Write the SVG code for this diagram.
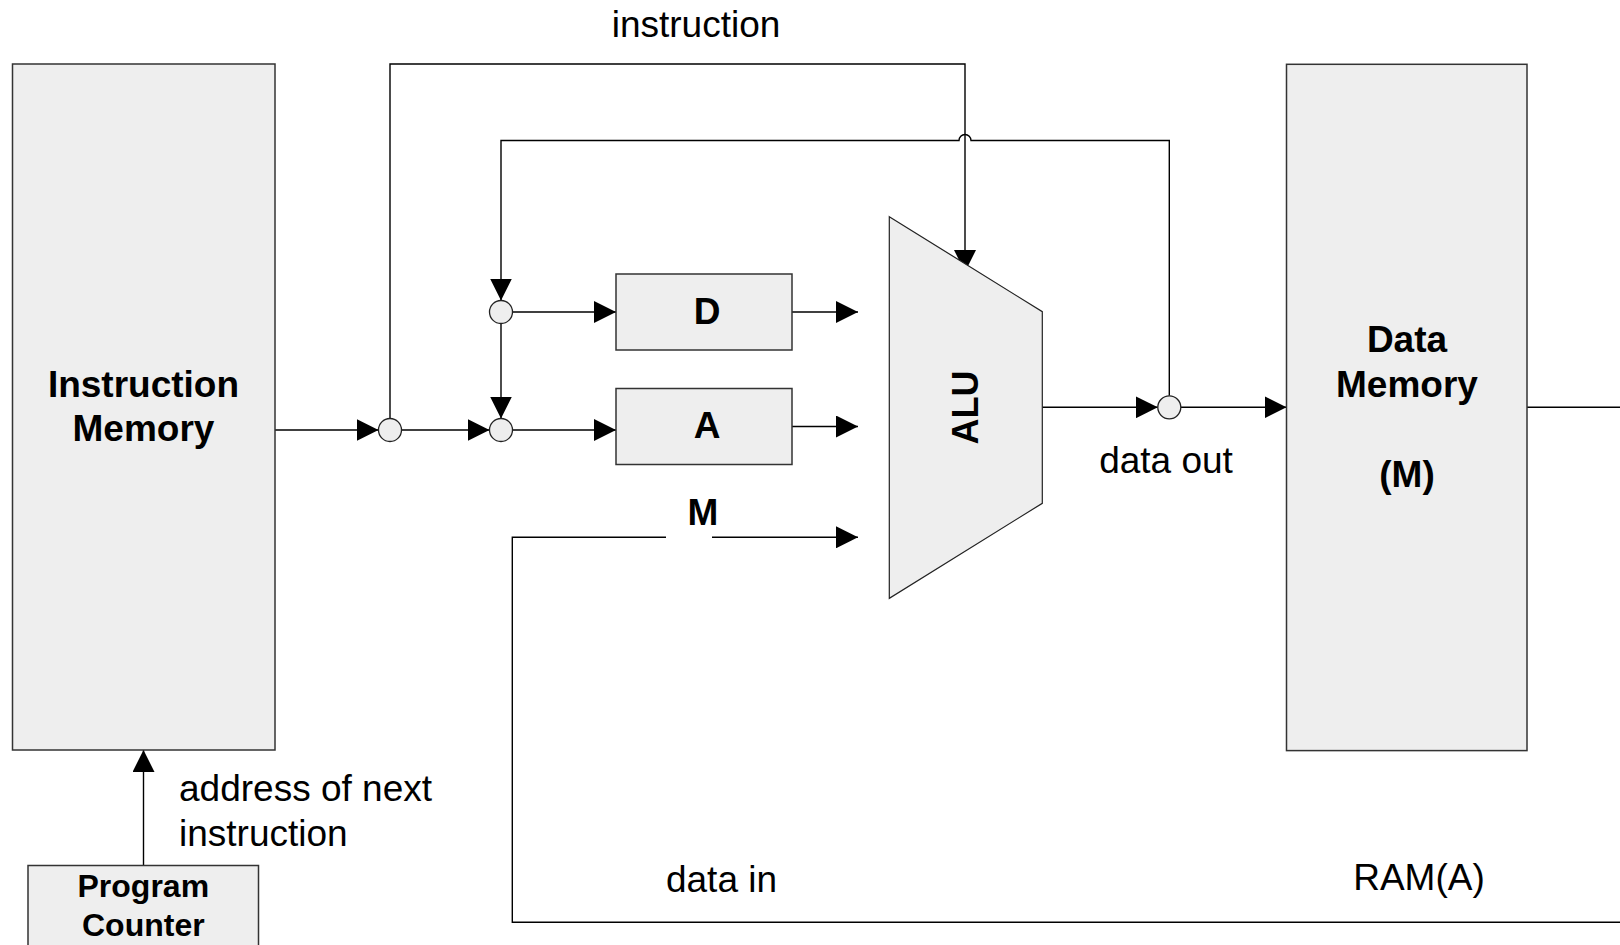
<svg xmlns="http://www.w3.org/2000/svg" width="1620" height="945" viewBox="0 0 1620 945">
  <style>
    .box { fill: #eeeeee; stroke: #333333; stroke-width: 1.5; }
    .junc { fill: #eeeeee; stroke: #222222; stroke-width: 1.3; }
    .wire { fill: none; stroke: #000000; stroke-width: 1.4; }
    .arrow { marker-end: url(#head); }
    .lbl { font-family: "Liberation Sans", Arial, sans-serif; font-size: 37px; fill: #000000; }
    .bold { font-family: "Liberation Sans", Arial, sans-serif; font-size: 37px; font-weight: bold; fill: #000000; text-anchor: middle; }
  </style>
  <defs>
    <marker id="head" viewBox="0 0 22 22" refX="22" refY="11" markerWidth="22" markerHeight="22" markerUnits="userSpaceOnUse" orient="auto">
      <path d="M0,0 L22,11 L0,22 Z" fill="#000000"/>
    </marker>
  </defs>

  <rect width="1620" height="945" fill="#ffffff"/>

  <!-- connectors -->
  <g id="connectors">
    <!-- program counter to instruction memory -->
    <line class="wire arrow" x1="143.5" y1="865.5" x2="143.5" y2="750"/>
    <!-- instruction memory output -->
    <line class="wire arrow" x1="275" y1="430" x2="378.5" y2="430"/>
    <line class="wire arrow" x1="401.5" y1="430" x2="489.5" y2="430"/>
    <!-- instruction bus to the ALU -->
    <path class="wire arrow" d="M390,418.5 V64 H965 V272"/>
    <!-- data out fed back to the registers, hopping over the instruction bus -->
    <path class="wire arrow" d="M1169.3,395.8 V140.5 H971 A6,6 0 0 0 959,140.5 H501 V300.5"/>
    <!-- D junction down to A junction -->
    <line class="wire arrow" x1="501" y1="323.5" x2="501" y2="418.5"/>
    <!-- junctions into registers -->
    <line class="wire arrow" x1="512.5" y1="312" x2="616" y2="312"/>
    <line class="wire arrow" x1="512.5" y1="430" x2="616" y2="430"/>
    <!-- register outputs into the ALU -->
    <line class="wire arrow" x1="792" y1="312" x2="858" y2="312"/>
    <line class="wire arrow" x1="792" y1="426.5" x2="858" y2="426.5"/>
    <!-- M input, returning from data memory -->
    <path class="wire" d="M1620,922.3 H512.3 V537.3 H666"/>
    <line class="wire arrow" x1="712" y1="537.3" x2="858" y2="537.3"/>
    <!-- ALU output -->
    <line class="wire arrow" x1="1042.3" y1="407.3" x2="1157.8" y2="407.3"/>
    <line class="wire arrow" x1="1180.8" y1="407.3" x2="1286.5" y2="407.3"/>
    <!-- data memory output -->
    <line class="wire" x1="1527" y1="407.3" x2="1620" y2="407.3"/>
  </g>

  <!-- junction points -->
  <g id="junctions">
    <circle class="junc" cx="390" cy="430" r="11.5"/>
    <circle class="junc" cx="501" cy="430" r="11.5"/>
    <circle class="junc" cx="501" cy="312" r="11.5"/>
    <circle class="junc" cx="1169.3" cy="407.3" r="11.5"/>
  </g>

  <g id="instruction-memory">
    <rect class="box" x="12.5" y="64" width="262.5" height="686"/>
    <text class="bold" x="143.5" y="396.7">Instruction</text>
    <text class="bold" x="143.5" y="440.7">Memory</text>
  </g>

  <g id="program-counter">
    <rect class="box" x="28" y="865.5" width="230.5" height="100"/>
    <text class="bold" x="143.3" y="897" style="font-size:32px">Program</text>
    <text class="bold" x="143.3" y="936" style="font-size:32px">Counter</text>
  </g>

  <g id="reg-d">
    <rect class="box" x="616" y="274" width="176" height="76"/>
    <text class="bold" x="707" y="324">D</text>
  </g>

  <g id="reg-a">
    <rect class="box" x="616" y="388.5" width="176" height="76"/>
    <text class="bold" x="707" y="437.7">A</text>
  </g>

  <g id="alu">
    <polygon points="889.3,216.7 1042.3,311.7 1042.3,503.3 889.3,598.3" fill="#eeeeee" stroke="#222222" stroke-width="1.2"/>
    <text class="bold" x="978.3" y="407.5" transform="rotate(-90 978.3 407.5)" style="font-size:36px">ALU</text>
  </g>

  <g id="data-memory">
    <rect class="box" x="1286.5" y="64.3" width="240.5" height="686.3"/>
    <text class="bold" x="1407" y="351.7">Data</text>
    <text class="bold" x="1407" y="396.7">Memory</text>
    <text class="bold" x="1407" y="486.7">(M)</text>
  </g>

  <!-- wire labels -->
  <g id="labels">
    <text class="lbl" x="696" y="36.7" text-anchor="middle">instruction</text>
    <text class="bold" x="702.8" y="525">M</text>
    <text class="lbl" x="1166" y="473.3" text-anchor="middle">data out</text>
    <text class="lbl" x="179" y="801">address of next</text>
    <text class="lbl" x="179" y="846">instruction</text>
    <text class="lbl" x="721.5" y="891.7" text-anchor="middle">data in</text>
    <text class="lbl" x="1419" y="889.5" text-anchor="middle">RAM(A)</text>
  </g>
</svg>
